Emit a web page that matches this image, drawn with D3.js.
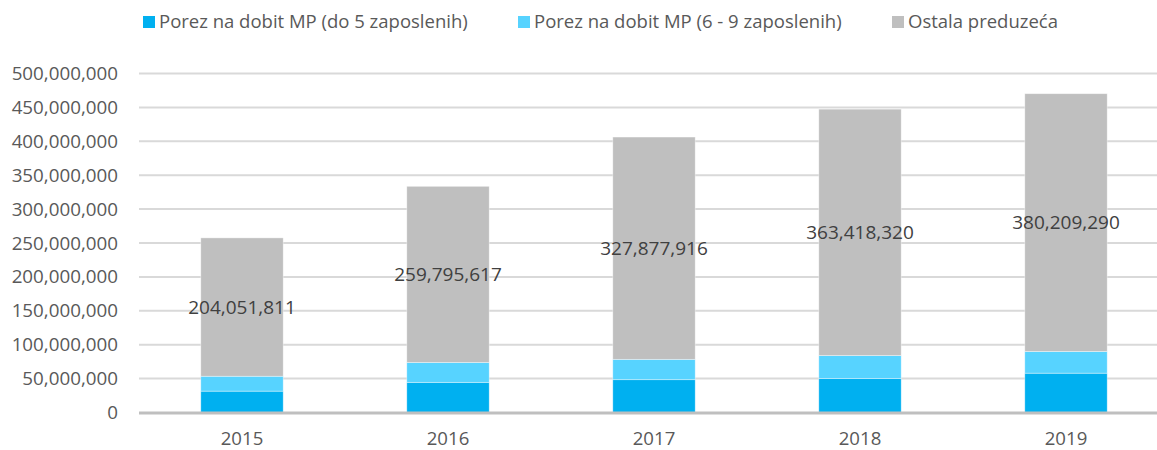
<!DOCTYPE html>
<html>
<head>
<meta charset="utf-8">
<script src="https://cdn.jsdelivr.net/npm/d3@7"></script>
<style>
  body { margin: 0; background: #fff; }
  svg { display: block; font-family: "Open Sans", sans-serif; }
</style>
</head>
<body>
<svg id="chart" width="1157" height="450"></svg>
<script>
const years = ['2015', '2016', '2017', '2018', '2019'];
const seriesNames = ['Porez na dobit MP (do 5 zaposlenih)', 'Porez na dobit MP (6 - 9 zaposlenih)', 'Ostala preduzeća'];
const upTo5 = [31500000, 44500000, 48400000, 50000000, 58000000];
const from6to9 = [22000000, 29300000, 30000000, 34000000, 32000000];
const others = [204051811, 259795617, 327877916, 363418320, 380209290];
const yTicks = [0, 50000000, 100000000, 150000000, 200000000, 250000000, 300000000, 350000000, 400000000, 450000000, 500000000];

const colors = ['#00b0f0', '#57d3ff', '#bfbfbf'];
const width = 1157;
const margin = { top: 73.5, right: -12, bottom: 37.5, left: 139 };
const height = 450;

const svg = d3.select('#chart');

const rows = years.map((y, i) => ({ year: y, s0: upTo5[i], s1: from6to9[i], s2: others[i] }));
const stack = d3.stack().keys(['s0', 's1', 's2'])(rows);

const x = d3
  .scaleBand()
  .domain(years)
  .range([margin.left, width - margin.right])
  .paddingInner(0.6)
  .paddingOuter(0.3);

const y = d3
  .scaleLinear()
  .domain([0, 500000000])
  .range([height - margin.bottom, margin.top]);

const fmt = d3.format(',');

// gridlines
svg
  .append('g')
  .selectAll('line')
  .data(yTicks.slice(1))
  .join('line')
  .attr('x1', margin.left)
  .attr('x2', width)
  .attr('y1', (d) => y(d))
  .attr('y2', (d) => y(d))
  .attr('stroke', '#d9d9d9')
  .attr('stroke-width', 2);

// y tick labels
svg
  .append('g')
  .selectAll('text')
  .data(yTicks)
  .join('text')
  .attr('x', 118)
  .attr('y', (d) => y(d))
  .attr('dy', '0.35em')
  .attr('text-anchor', 'end')
  .attr('fill', '#595959')
  .attr('font-size', 18.8)
  .text((d) => fmt(d));

// bars
svg
  .append('g')
  .selectAll('g')
  .data(stack)
  .join('g')
  .attr('fill', (d, i) => colors[i])
  .selectAll('rect')
  .data((d) => d)
  .join('rect')
  .attr('x', (d) => x(d.data.year))
  .attr('width', x.bandwidth())
  .attr('y', (d) => y(d[1]))
  .attr('height', (d) => y(d[0]) - y(d[1]))
  .attr('stroke', '#fff')
  .attr('stroke-opacity', 0.5)
  .attr('stroke-width', 0.75);

// x axis line
svg
  .append('line')
  .attr('x1', margin.left)
  .attr('x2', width)
  .attr('y1', y(0) + 0.5)
  .attr('y2', y(0) + 0.5)
  .attr('stroke', '#bfbfbf')
  .attr('stroke-width', 3);

// x tick labels
svg
  .append('g')
  .selectAll('text')
  .data(years)
  .join('text')
  .attr('x', (d) => x(d) + x.bandwidth() / 2)
  .attr('y', 438.5)
  .attr('dy', '0.35em')
  .attr('text-anchor', 'middle')
  .attr('fill', '#595959')
  .attr('font-size', 18.6)
  .text((d) => d);

// value labels on the "others" segment
svg
  .append('g')
  .selectAll('text')
  .data(stack[2])
  .join('text')
  .attr('x', (d) => x(d.data.year) + x.bandwidth() / 2)
  .attr('y', (d) => (y(d[0]) + y(d[1])) / 2)
  .attr('dy', '0.35em')
  .attr('text-anchor', 'middle')
  .attr('fill', '#404040')
  .attr('font-size', 19)
  .text((d) => fmt(d.data.s2));

// legend
const legendX = [143, 518, 892];
const legend = svg
  .append('g')
  .selectAll('g')
  .data(seriesNames)
  .join('g')
  .attr('transform', (d, i) => `translate(${legendX[i]},22)`);

legend
  .append('rect')
  .attr('x', 0)
  .attr('y', -6)
  .attr('width', 12)
  .attr('height', 12)
  .attr('fill', (d, i) => colors[i]);

legend
  .append('text')
  .attr('x', 16)
  .attr('dy', '0.35em')
  .attr('fill', '#595959')
  .attr('font-size', 18.5)
  .text((d) => d);
</script>
</body>
</html>
